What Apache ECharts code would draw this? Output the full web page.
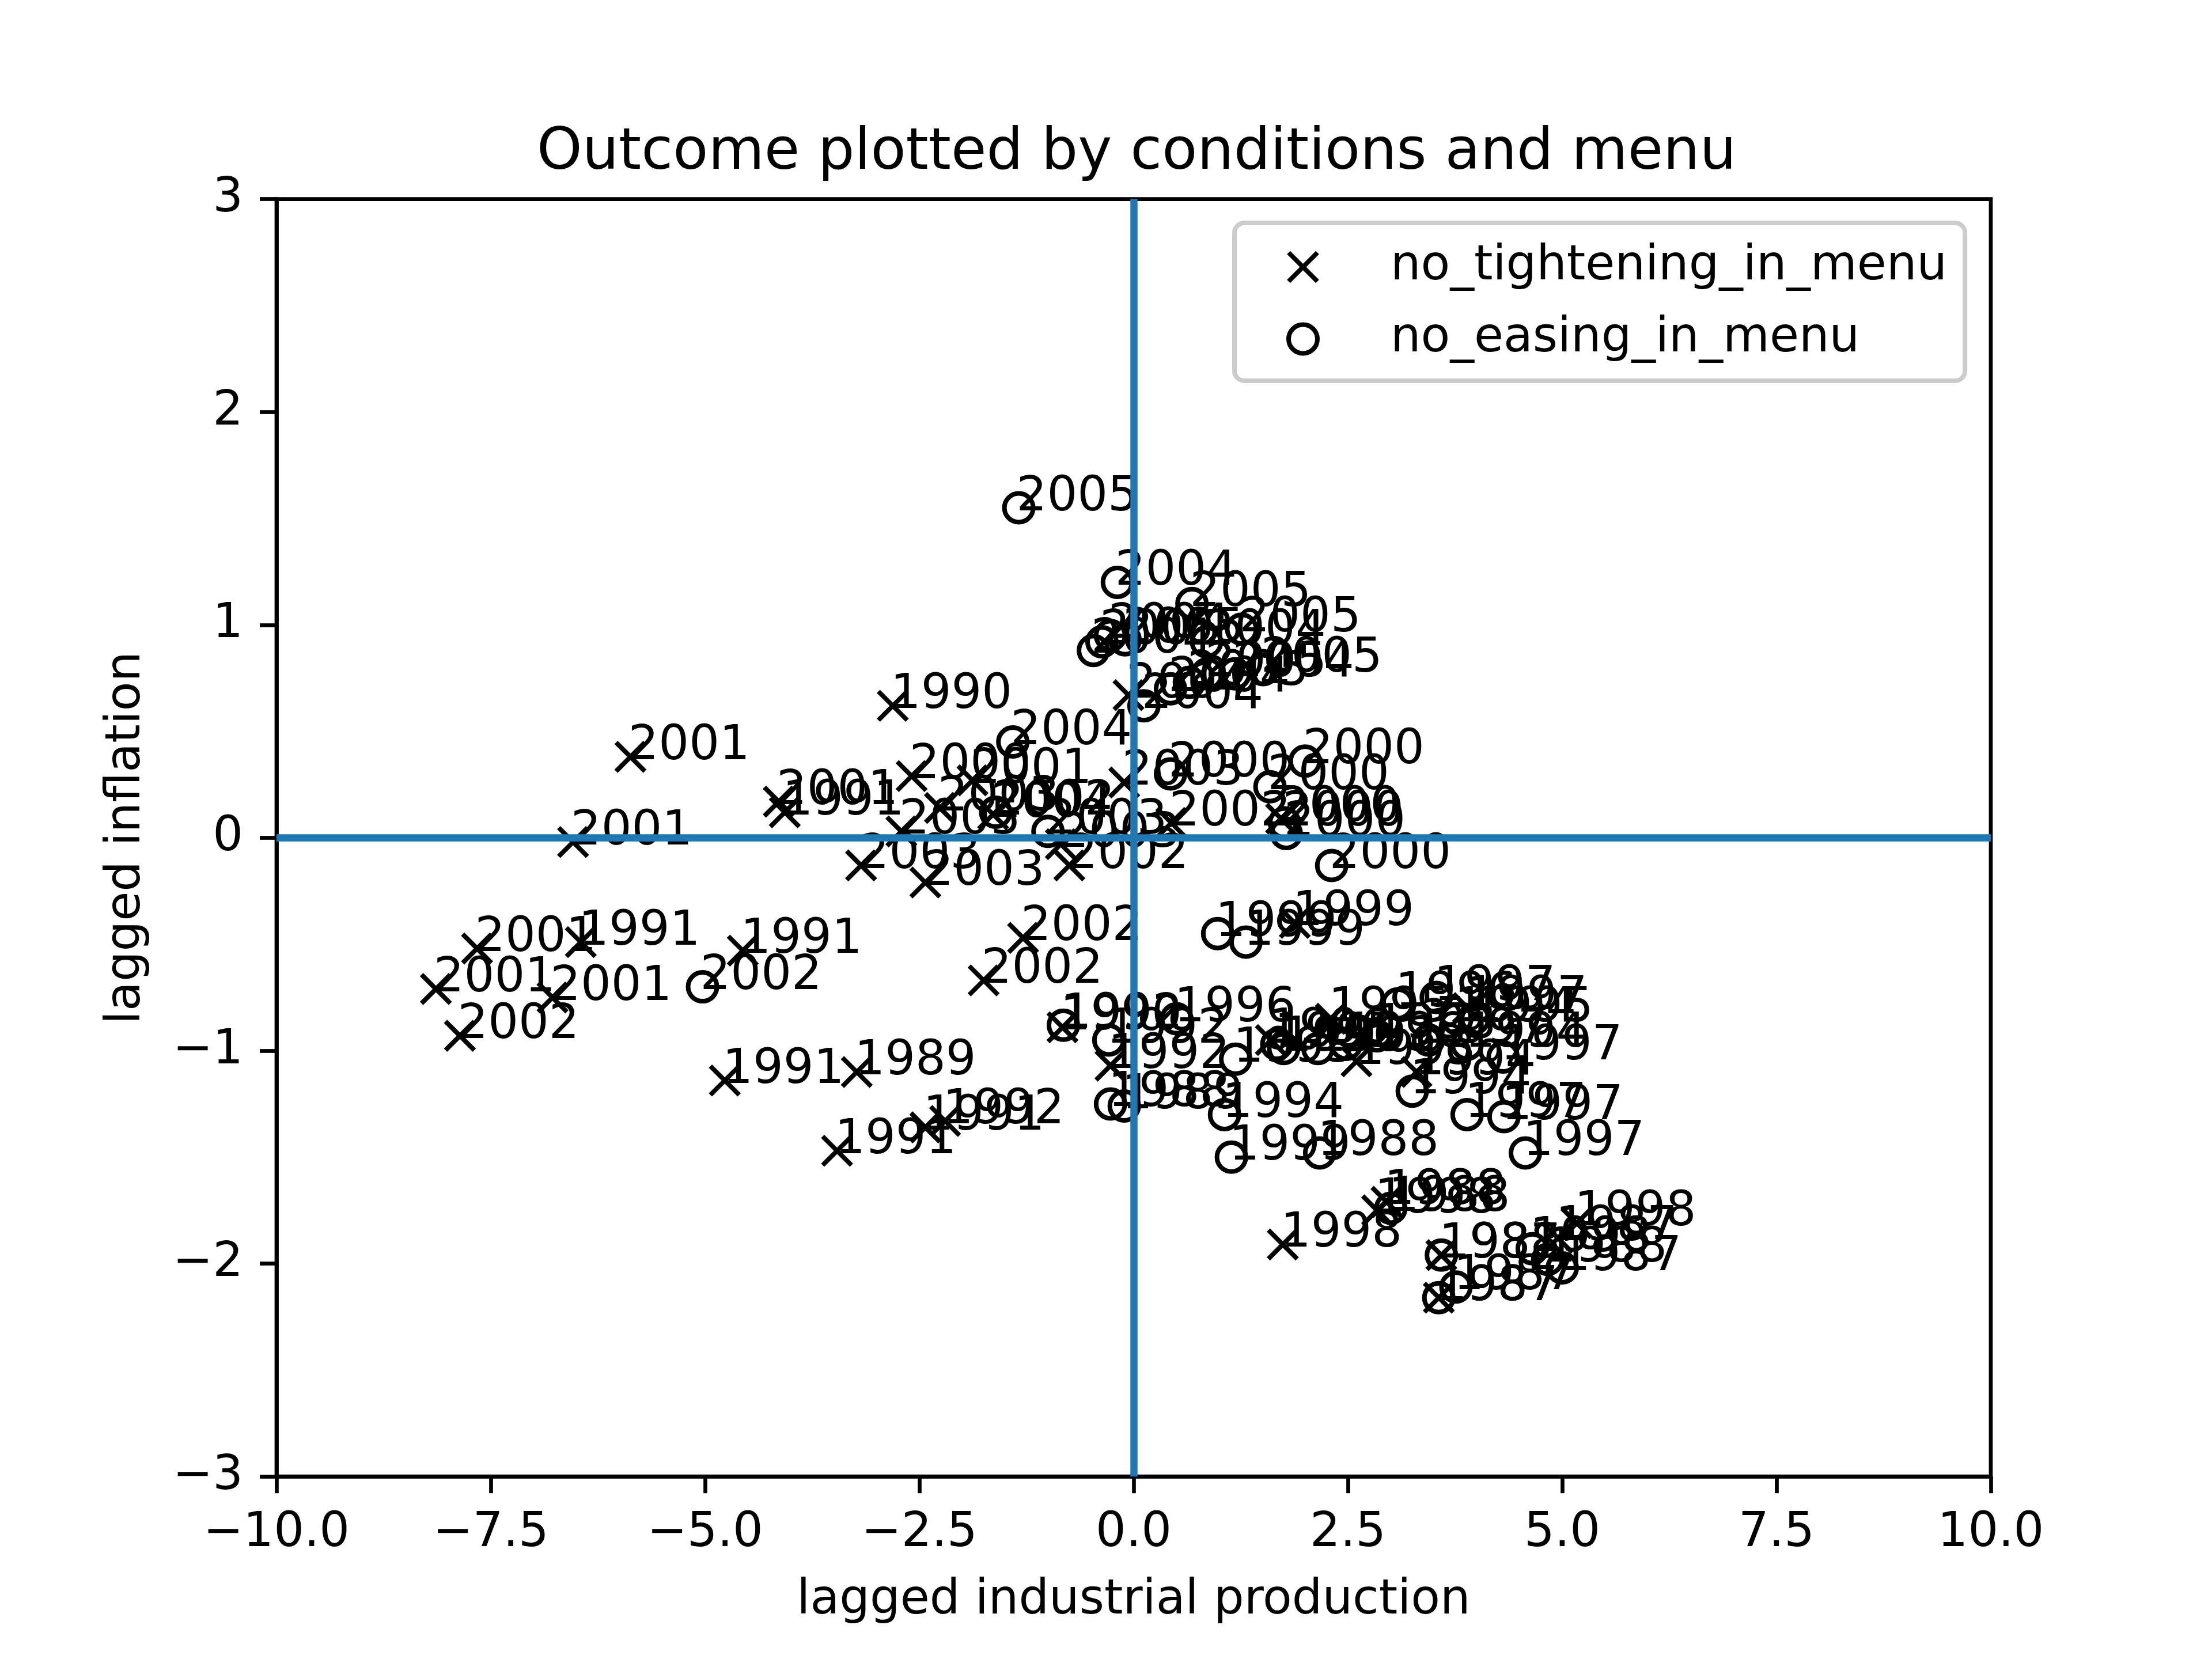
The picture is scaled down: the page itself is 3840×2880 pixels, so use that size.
<!DOCTYPE html>
<html lang="en">
<head>
    <meta charset="UTF-8">
    <title>Outcome plotted by conditions and menu</title>
    <script src="https://cdn.jsdelivr.net/npm/echarts@6/dist/echarts.min.js"></script>
    <style>
        html, body { margin: 0; padding: 0; background: #fff; }
        #chart { width: 3840px; height: 2880px; }
    </style>
</head>
<body>
    <div id="chart"></div>

    <script>
        // no_tightening_in_menu (x markers)
        var tightX = [-2.81, -5.87, -6.54, -4.14, -4.07, -2.59, -1.88, -2.26, -1.64, -2.71,
                      -3.18, -2.43, -0.75, -0.85, -0.11, 0.44, 1.72, -0.06, -0.83, -0.27,
                      -1.29, -1.75, -4.77, -3.23, -3.46, -2.43, -2.20, -7.66, -6.45, -4.56,
                      -8.14, -6.78, -7.86, 1.74, 2.84, 2.95, 3.59, 3.56, 5.17, 4.95,
                      1.88, 1.60, 2.30, 3.30, 3.90, 2.60];
        var tightY = [0.62, 0.38, -0.02, 0.17, 0.12, 0.29, 0.27, 0.14, 0.11, 0.03,
                      -0.13, -0.21, -0.13, -0.03, 0.26, 0.07, 0.09, 0.67, -0.89, -1.07,
                      -0.47, -0.67, -1.14, -1.10, -1.47, -1.36, -1.33, -0.52, -0.49, -0.53,
                      -0.71, -0.75, -0.93, -1.91, -1.75, -1.71, -1.96, -2.16, -1.81, -1.88,
                      -0.40, -0.95, -0.85, -1.10, -0.80, -1.05];
        var tightYear = ['1990', '2001', '2001', '2001', '1991', '2000', '2001', '2003', '2004', '2005',
                         '2003', '2003', '2002', '2003', '2003', '2002', '2000', '2004', '1990', '1992',
                         '2002', '2002', '1991', '1989', '1991', '1991', '1992', '2001', '1991', '1991',
                         '2001', '2001', '2002', '1998', '1998', '1988', '1987', '1987', '1998', '1987',
                         '1999', '1996', '1995', '1994', '1997', '1993'];

        // no_easing_in_menu (circle markers)
        var easeX = [-1.34, -0.19, 0.68, -0.47, -0.37, -0.27, -0.10, 0.85, 1.26, 0.86,
                     1.18, 1.51, 0.43, 0.12, 0.65, -1.41, -1.61, -1.00, 0.43, 2.00,
                     1.59, 1.76, 1.78, 2.31, 0.98, 1.31, -5.03, -0.82, -0.29, -0.27,
                     -0.11, 1.06, 1.14, 2.17, 3.25, 3.89, 4.32, 4.57, 3.00, 3.59,
                     3.56, 3.76, 4.65, 4.83, 5.00, 1.67, 1.75, 1.19, 2.48, 2.84,
                     3.08, 3.53, 3.77, 3.89, 3.44, 3.97, 2.15, 0.50, 4.31];
        var easeY = [1.55, 1.20, 1.10, 0.88, 0.92, 0.95, 0.93, 0.92, 0.98, 0.77,
                     0.77, 0.79, 0.70, 0.62, 0.73, 0.45, 0.12, 0.03, 0.30, 0.36,
                     0.24, 0.07, 0.02, -0.13, -0.45, -0.49, -0.70, -0.88, -0.95, -1.25,
                     -1.26, -1.30, -1.50, -1.48, -1.19, -1.30, -1.31, -1.48, -1.74, -1.96,
                     -2.16, -2.11, -1.93, -1.98, -2.02, -0.97, -0.99, -1.04, -0.97, -0.93,
                     -0.78, -0.75, -0.85, -0.97, -0.95, -0.85, -0.99, -0.85, -1.03];
        var easeYear = ['2005', '2004', '2005', '2004', '2005', '2004', '2005', '2004', '2005', '2005',
                        '2004', '2005', '2004', '2004', '2005', '2004', '2002', '2003', '2000', '2000',
                        '2000', '2000', '2000', '2000', '1999', '1999', '2002', '1992', '1992', '1988',
                        '1989', '1994', '1999', '1988', '1994', '1997', '1997', '1997', '1988', '1988',
                        '1987', '1987', '1998', '1988', '1987', '1995', '1996', '1993', '1996', '1993',
                        '1996', '1997', '1994', '1994', '1997', '1995', '1993', '1996', '1997'];

        var xTicks = [-10, -7.5, -5, -2.5, 0, 2.5, 5, 7.5, 10];
        var yTicks = [-3, -2, -1, 0, 1, 2, 3];

        var FONT = 'DejaVu Sans';
        var X_PATH = 'path://M0,0L10,10M0,10L10,0';

        function pairs(xs, ys, names) {
            var out = [];
            for (var i = 0; i < xs.length; i++) {
                out.push({ name: names[i], value: [xs[i], ys[i]] });
            }
            return out;
        }

        function minus(s) {
            return String(s).replace('-', '\u2212');
        }

        // annotation text sits up and to the right of each marker
        var yearLabel = {
            show: true,
            formatter: '{b}',
            position: [25, 53],
            align: 'left',
            verticalAlign: 'bottom',
            fontFamily: FONT,
            fontSize: 83,
            color: '#000'
        };

        var markStyle = { color: 'transparent', borderColor: '#000', borderWidth: 8, opacity: 1 };

        var chart = echarts.init(document.getElementById('chart'), null, { renderer: 'canvas' });

        var option = {
            animation: false,
            backgroundColor: '#fff',
            title: {
                text: 'Outcome plotted by conditions and menu',
                left: 1968,
                top: 212,
                textAlign: 'center',
                textStyle: { fontFamily: FONT, fontSize: 100, fontWeight: 'normal', color: '#000' }
            },
            legend: {
                orient: 'vertical',
                left: 2143,
                top: 387,
                padding: [35, 31, 31, 90],
                itemGap: 42,
                itemWidth: 50,
                itemHeight: 50,
                backgroundColor: 'rgba(255,255,255,0.8)',
                borderColor: '#cccccc',
                borderWidth: 8,
                borderRadius: 17,
                itemStyle: markStyle,
                textStyle: { fontFamily: FONT, fontSize: 83, color: '#000', padding: [0, 0, 0, 122], lineHeight: 83 },
                data: [
                    { name: 'no_tightening_in_menu', icon: X_PATH },
                    { name: 'no_easing_in_menu', icon: 'circle' }
                ]
            },
            grid: {
                left: 480,
                right: 384,
                top: 345.6,
                bottom: 316.8,
                show: true,
                borderColor: '#000',
                borderWidth: 6.7,
                backgroundColor: 'transparent'
            },
            xAxis: {
                type: 'value',
                min: xTicks[0],
                max: xTicks[xTicks.length - 1],
                interval: 2.5,
                name: 'lagged industrial production',
                nameLocation: 'middle',
                nameGap: 175,
                nameTextStyle: { fontFamily: FONT, fontSize: 83, color: '#000' },
                axisLine: { show: true, onZero: false, lineStyle: { color: '#000', width: 6.7 } },
                axisTick: { show: true, inside: false, length: 29, lineStyle: { color: '#000', width: 6.7 } },
                axisLabel: {
                    margin: 58,
                    fontFamily: FONT,
                    fontSize: 83,
                    color: '#000',
                    formatter: function (v) { return minus(v.toFixed(1)); }
                },
                splitLine: { show: false }
            },
            yAxis: {
                type: 'value',
                min: yTicks[0],
                max: yTicks[yTicks.length - 1],
                interval: 1,
                name: 'lagged inflation',
                nameLocation: 'middle',
                nameGap: 218,
                nameTextStyle: { fontFamily: FONT, fontSize: 83, color: '#000' },
                axisLine: { show: true, onZero: false, lineStyle: { color: '#000', width: 6.7 } },
                axisTick: { show: true, inside: false, length: 29, lineStyle: { color: '#000', width: 6.7 } },
                axisLabel: {
                    margin: 58,
                    fontFamily: FONT,
                    fontSize: 83,
                    color: '#000',
                    formatter: function (v) { return minus(v); }
                },
                splitLine: { show: false }
            },
            series: [
                {
                    // the two blue reference lines through the origin
                    name: 'origin',
                    type: 'scatter',
                    data: [],
                    z: 1,
                    silent: true,
                    markLine: {
                        silent: true,
                        symbol: 'none',
                        label: { show: false },
                        lineStyle: { color: '#1f77b4', width: 12.5, type: 'solid', opacity: 1 },
                        data: [{ xAxis: 0 }, { yAxis: 0 }]
                    }
                },
                {
                    name: 'no_tightening_in_menu',
                    type: 'scatter',
                    z: 3,
                    symbol: X_PATH,
                    symbolSize: 50,
                    itemStyle: markStyle,
                    label: yearLabel,
                    data: pairs(tightX, tightY, tightYear)
                },
                {
                    name: 'no_easing_in_menu',
                    type: 'scatter',
                    z: 3,
                    symbol: 'circle',
                    symbolSize: 50,
                    itemStyle: markStyle,
                    label: yearLabel,
                    data: pairs(easeX, easeY, easeYear)
                }
            ]
        };

        chart.setOption(option);
    </script>
</body>
</html>
